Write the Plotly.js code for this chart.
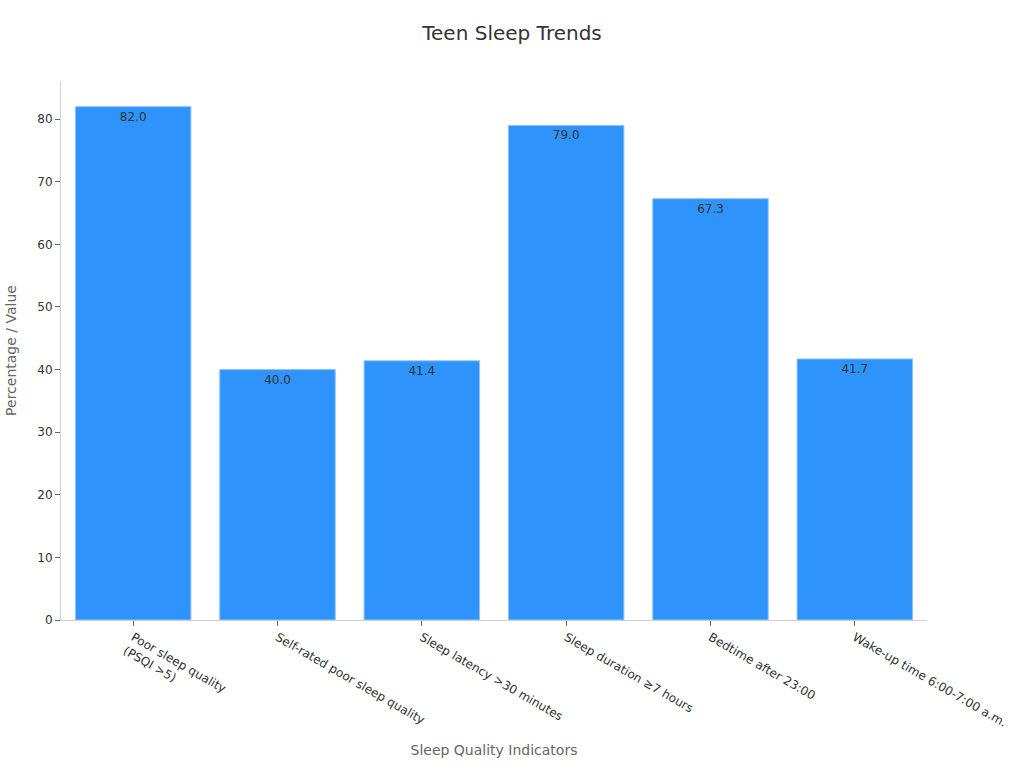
<!DOCTYPE html>
<html>
<head>
<meta charset="utf-8">
<script src="https://cdn.plot.ly/plotly-3.0.1.min.js"></script>
<style>
  body { margin: 0; background: #fff; }
  #chart { width: 1024px; height: 768px; }
</style>
</head>
<body>
<div id="chart"></div>
<script>
var indicators = [
  "Poor sleep quality<br>(PSQI >5)",
  "Self-rated poor sleep quality",
  "Sleep latency >30 minutes",
  "Sleep duration ≥7 hours",
  "Bedtime after 23:00",
  "Wake-up time 6:00-7:00 a.m."
];
var values = [82.0, 40.0, 41.4, 79.0, 67.3, 41.7];

var font_family = '"DejaVu Sans", Verdana, sans-serif';

var data = [{
  type: 'bar',
  x: indicators,
  y: values,
  text: values.map(function(v){ return v.toFixed(1); }),
  textposition: 'inside',
  insidetextanchor: 'end',
  textfont: { family: font_family, size: 12, color: '#333' },
  marker: {
    color: 'rgb(46,147,250)',
    line: { color: 'rgb(140,195,250)', width: 1 }
  },
  hoverinfo: 'x+y'
}];

var layout = {
  width: 1024,
  height: 768,
  showlegend: false,
  font: { family: font_family, size: 12, color: '#333' },
  paper_bgcolor: '#fff',
  plot_bgcolor: '#fff',
  margin: { l: 61, r: 97, t: 81, b: 148, pad: 0 },
  bargap: 0.2,
  title: {
    text: 'Teen Sleep Trends',
    font: { family: font_family, size: 20, color: '#333' },
    x: 0.5,
    y: 0.957,
    xanchor: 'center',
    yanchor: 'middle'
  },
  xaxis: {
    title: { text: 'Sleep Quality Indicators', font: { size: 14, color: '#666' }, standoff: 16 },
    tickangle: 30,
    ticks: 'outside',
    ticklen: 5,
    tickcolor: '#666',
    showline: true,
    linecolor: '#d0d0d0',
    showgrid: false,
    automargin: false
  },
  yaxis: {
    title: { text: 'Percentage / Value', font: { size: 14, color: '#666' }, standoff: 17 },
    range: [0, 86.1],
    dtick: 10,
    ticks: 'outside',
    ticklen: 5,
    tickcolor: '#666',
    showline: true,
    linecolor: '#d0d0d0',
    showgrid: false,
    zeroline: false,
    automargin: false
  }
};

Plotly.newPlot('chart', data, layout, { displayModeBar: false, responsive: false });
</script>
</body>
</html>
